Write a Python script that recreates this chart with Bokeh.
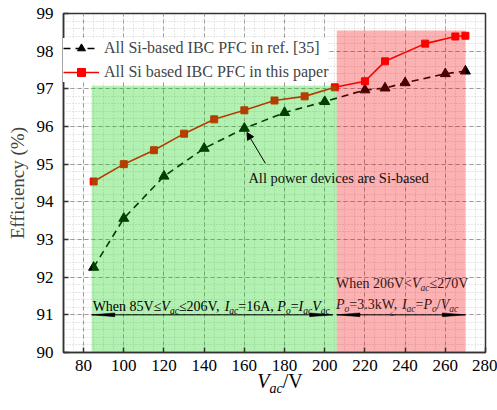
from bokeh.plotting import figure
from bokeh.layouts import column
from bokeh.models import (Legend, LegendItem, Label, Arrow, NormalHead, Range1d,
                          FixedTicker, Div)
from bokeh.embed import file_html
from bokeh.resources import INLINE

# ---------------- data ----------------
ref_v = [85, 100, 120, 140, 160, 180, 200, 220, 230, 240, 260, 270]
ref_eff = [92.26, 93.56, 94.68, 95.42, 95.95, 96.37, 96.66, 96.97, 97.02, 97.16, 97.40, 97.47]
this_v = [85, 100, 115, 130, 145, 160, 175, 190, 205, 220, 230, 250, 265, 270]
this_eff = [94.54, 95.00, 95.37, 95.81, 96.19, 96.43, 96.69, 96.80, 97.04, 97.20, 97.73, 98.20, 98.39, 98.41]
x_ticks = [80, 100, 120, 140, 160, 180, 200, 220, 240, 260, 280]
y_ticks = [90, 91, 92, 93, 94, 95, 96, 97, 98, 99]
low_region = [84, 206, 97.08]    # left, right, top
high_region = [206, 270, 98.55]
low_arrow = [84, 204, 91]
high_arrow = [206, 270, 91]
series_names = ["All Si-based IBC PFC in ref. [35]", "All Si based IBC PFC in this paper"]

FONT = "Liberation Serif"

p = figure(width=497, height=375, output_backend="svg", toolbar_location=None,
           x_range=Range1d(70, 280), y_range=Range1d(90, 99),
           min_border_left=63, min_border_right=12, min_border_top=13, min_border_bottom=23)
p.background_fill_color = "white"
p.outline_line_color = "#333333"
p.outline_line_width = 1.5

p.xaxis.ticker = FixedTicker(ticks=x_ticks, minor_ticks=list(range(70, 281, 5)))
p.yaxis.ticker = FixedTicker(ticks=y_ticks, minor_ticks=[90 + 0.2 * i for i in range(46)])
for ax in (p.xaxis[0], p.yaxis[0]):
    ax.major_label_text_font = FONT
    ax.major_label_text_font_size = "17px"
    ax.major_label_text_color = "black"
    ax.major_tick_in = 5
    ax.major_tick_out = 0
    ax.minor_tick_line_color = None
    ax.axis_line_color = "#333333"
    ax.axis_line_width = 1.5
    ax.major_tick_line_color = "#333333"
    ax.major_tick_line_width = 1.5
p.xaxis.major_label_standoff = 3
p.yaxis.major_label_standoff = 6
p.yaxis.axis_label = "Efficiency (%)"
p.yaxis.axis_label_text_font = FONT
p.yaxis.axis_label_text_font_style = "normal"
p.yaxis.axis_label_text_font_size = "19px"
p.yaxis.axis_label_standoff = 6

for g in (p.xgrid[0], p.ygrid[0]):
    g.grid_line_color = "#9a9a9a"
    g.grid_line_dash = "4 3"
    g.grid_line_width = 1
    g.minor_grid_line_color = "#cfcfcf"
    g.minor_grid_line_dash = "1 2"
    g.minor_grid_line_width = 1

# series
l1 = p.line(ref_v, ref_eff, line_color="black", line_width=1.6, line_dash="7 5")
s1 = p.scatter(ref_v, ref_eff, marker="triangle", size=10, fill_color="black", line_color="black")
l2 = p.line(this_v, this_eff, line_color="#ff0000", line_width=1.6)
s2 = p.scatter(this_v, this_eff, marker="square", size=7, fill_color="#ff0000", line_color="#ff0000")

# shaded regions drawn over the data (tints them)
p.quad(left=[low_region[0]], right=[low_region[1]], bottom=[90], top=[low_region[2]],
       fill_color="#00d000", fill_alpha=0.3, line_color=None)
p.quad(left=[high_region[0]], right=[high_region[1]], bottom=[90], top=[high_region[2]],
       fill_color="#f40000", fill_alpha=0.3, line_color=None)

legend = Legend(items=[LegendItem(label=series_names[0], renderers=[l1, s1]),
                       LegendItem(label=series_names[1], renderers=[l2, s2])],
                location=(0, 270), label_text_font=FONT, label_text_font_size="16px",
                glyph_width=36, glyph_height=20, label_height=20, spacing=4,
                padding=4, margin=0, label_standoff=5,
                border_line_color=None, background_fill_color="white", background_fill_alpha=1)
p.add_layout(legend)

# ---------------- rich text helper ----------------
W_N = {' ': 250, ',': 250, '.': 250, '/': 278, '=': 564, '<': 564, '\u2264': 549,
       'A': 722, 'B': 667, 'C': 667, 'F': 556, 'I': 333, 'P': 556, 'S': 556, 'V': 722,
       'W': 944, 'a': 444, 'b': 500, 'c': 444, 'd': 500, 'e': 444, 'h': 500, 'k': 500,
       'l': 278, 'n': 500, 'o': 500, 'p': 500, 'r': 333, 's': 389, 'v': 500, 'w': 722}
W_I = {'V': 611, 'I': 333, 'P': 611, 'a': 500, 'c': 444, 'o': 500}


def char_w(ch, italic):
    if italic and ch in W_I:
        return W_I[ch]
    if ch.isdigit():
        return 500
    return W_N.get(ch, 500)


def rich(x, y, runs, fs, yoff=0.0, color="black"):
    total = 0.0
    for r in runs:
        txt, it, sub = r[0], r[1], (len(r) > 2 and r[2])
        size = fs * 0.68 if sub else fs
        p.add_layout(Label(x=x, y=y, x_offset=total,
                           y_offset=yoff - (fs * 0.3 if sub else 0), text=txt,
                           text_font=FONT, text_font_size=f"{size:.1f}px",
                           text_font_style="italic" if it else "normal",
                           text_color=color, text_baseline="alphabetic", text_align="left"))
        total += sum(char_w(c, it) for c in txt) / 1000.0 * size


N, I = False, True
rich(84.5, low_arrow[2], [("When 85V\u2264", N), ("V", I), ("ac", I, True), ("\u2264206V, ", N),
                          ("I", I), ("ac", I, True), ("=16A, ", N), ("P", I), ("o", I, True),
                          ("=", N), ("I", I), ("ac", I, True), ("V", I), ("ac", I, True)],
     14, yoff=8)
rich(205.6, high_arrow[2], [("When 206V<", N), ("V", I), ("ac", I, True), ("\u2264270V", N)],
     14, yoff=31, color="#3a1414")
rich(205.6, high_arrow[2], [("P", I), ("o", I, True), ("=3.3kW, ", N), ("I", I), ("ac", I, True),
                            ("=", N), ("P", I), ("o", I, True), ("/", N), ("V", I), ("ac", I, True)],
     14, yoff=10, color="#3a1414")
p.add_layout(Label(x=233.5, y=high_arrow[2], y_offset=1, text="\u2264", text_font=FONT,
                   text_font_size="8px", text_color="#3a1414", text_baseline="alphabetic",
                   text_align="center"))

# annotation
p.add_layout(Label(x=162, y=94.62, text="All power devices are Si-based", text_font=FONT,
                   text_font_size="14.5px", text_color="#111111", text_baseline="alphabetic",
                   text_align="left"))
p.add_layout(Arrow(end=NormalHead(size=7, fill_color="black", line_color="black"),
                   x_start=170.5, y_start=95.02, x_end=161.3, y_end=95.84,
                   line_color="black", line_width=1))

# double arrows along the bottom
for a in (low_arrow, high_arrow):
    x0, x1, ya = a
    p.segment(x0=[x0], y0=[ya], x1=[x1], y1=[ya], line_color="black", line_width=1)
    hl = 11.5  # head length in data units
    hh = 0.05
    p.patches(xs=[[x0, x0 + hl, x0 + hl], [x1, x1 - hl, x1 - hl]],
              ys=[[ya, ya + hh, ya - hh], [ya, ya + hh, ya - hh]],
              fill_color="black", line_color="black", line_width=0.5)

# x axis label (rich text) below the plot
xlabel = Div(text="<i>V</i><sub style='font-size:14px'><i>ac</i></sub>/V",
             width=200, margin=(-4, 0, 0, 180),
             styles={"text-align": "center", "font-family": FONT, "font-size": "20px",
                     "line-height": "1", "color": "black"})

layout = column(p, xlabel, spacing=0)
open("out.html", "w").write(file_html(layout, INLINE))
